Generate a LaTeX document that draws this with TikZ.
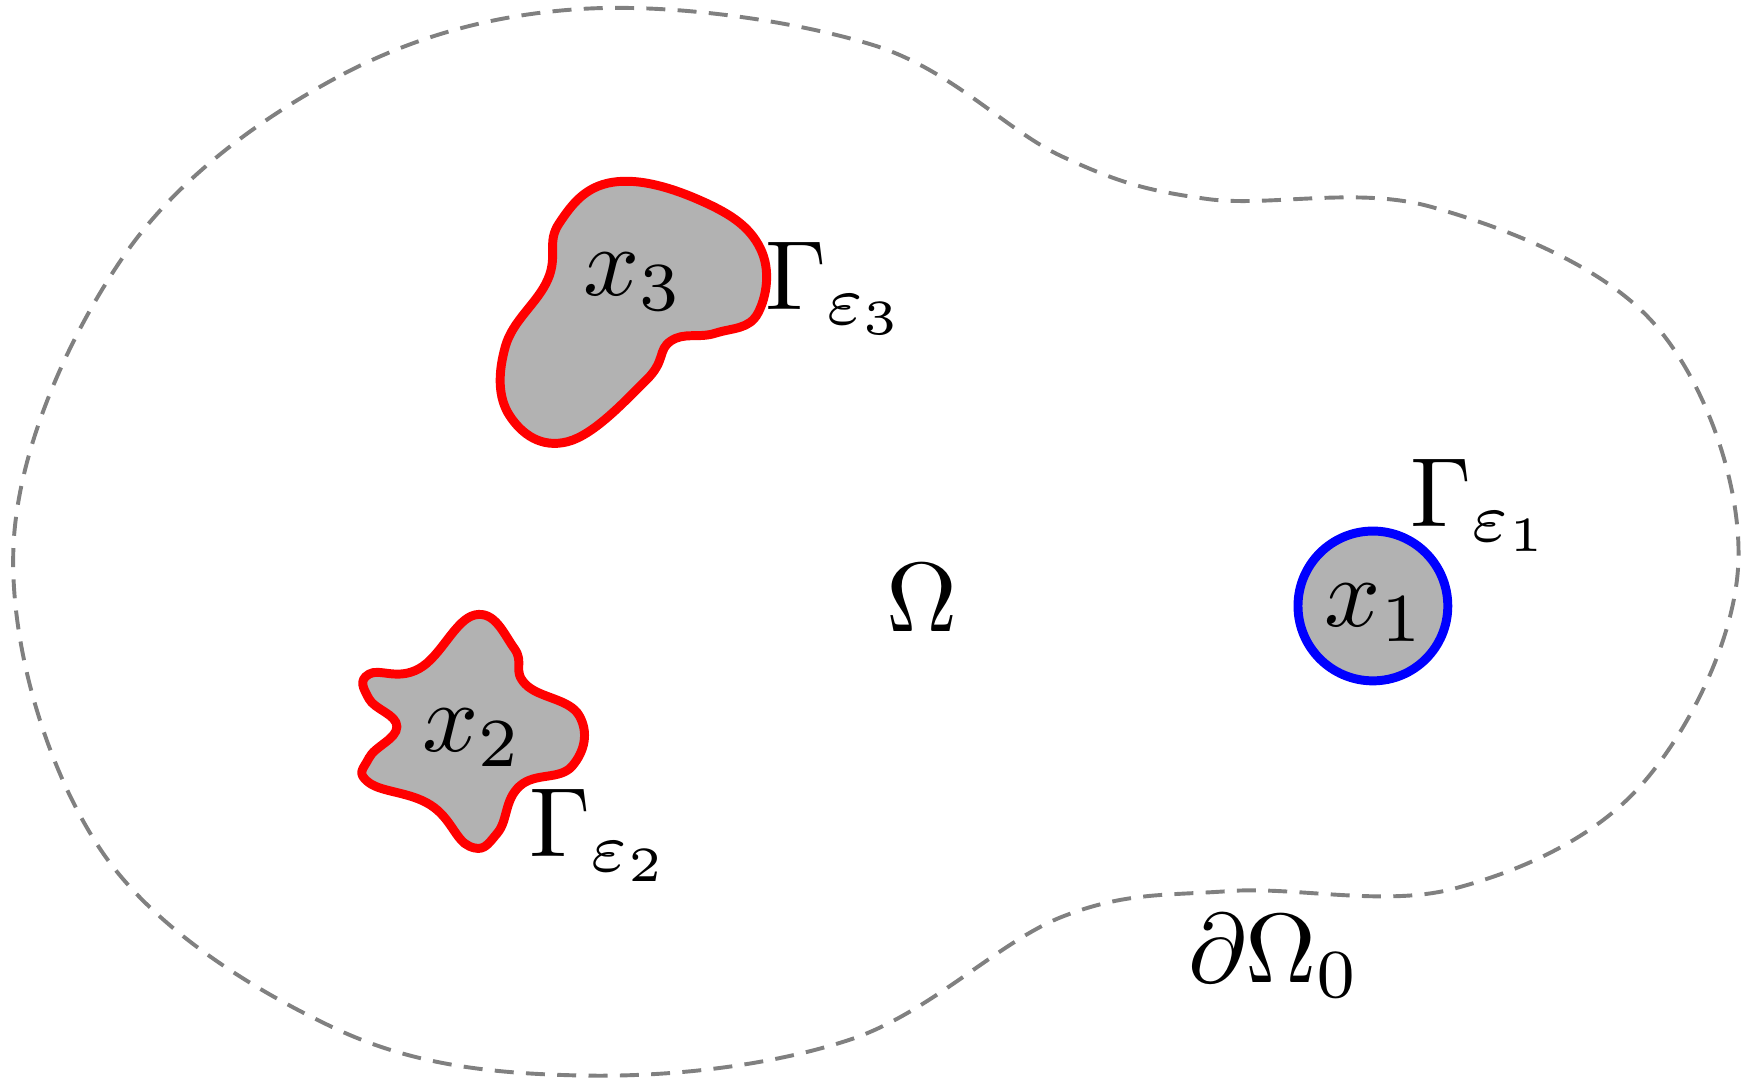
\documentclass[tikz,border=0pt]{standalone}
\usepackage{amsmath}
\begin{document}
\begin{tikzpicture}[x=1pt,y=-1pt,
  lbl/.style={inner sep=0pt,scale=8.8},
  incl/.style={fill=black!30,line width=8pt,line join=round}]
\useasboundingbox (0,0) rectangle (1568,972);
\draw[gray,dashed,dash pattern=on 17pt off 11pt,line width=3.5pt] plot[smooth cycle,tension=0.6] coordinates {
(520,8) (300,70) (110,230) (12,490) (90,760) (300,920) (520,962) (760,930) (950,820) (1100,797) (1300,795) (1470,700) (1555,500) (1480,290) (1280,185) (1080,178) (950,140) (780,40)};
\draw[incl,draw=red] plot[smooth cycle,tension=0.7] coordinates {
(548,163) (628,180) (680,222) (678,280) (640,298) (600,305) (578,340) (508,395) (456,372) (452,310) (490,250) (500,200)};
\draw[incl,draw=red] plot[smooth cycle,tension=0.75] coordinates {
(330,603) (375,598) (425,550) (460,580) (470,612) (518,640) (512,685) (465,703) (445,745) (420,757) (385,720) (330,700) (330,678) (355,650) (330,625)};
\node[draw=blue,fill=black!30,line width=8pt,circle,minimum size=134pt,inner sep=0pt] (c1) at (1228,542) {};
\node[lbl] (x3) at (567,252) {$x_3$};
\node[lbl] (g3) at (748,258) {$\Gamma_{\varepsilon_3}$};
\node[lbl] (x2) at (423,660) {$x_2$};
\node[lbl] (g2) at (537,747) {$\Gamma_{\varepsilon_2}$};
\node[lbl] (om) at (825,535) {$\Omega$};
\node[lbl] (x1) at (1230,548) {$x_1$};
\node[lbl] (g1) at (1325,452) {$\Gamma_{\varepsilon_1}$};
\node[lbl] (bd) at (1140,855) {$\partial\Omega_0$};
\end{tikzpicture}
\end{document}
